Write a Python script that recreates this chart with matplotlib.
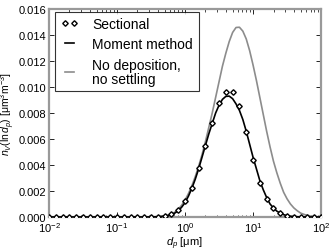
import matplotlib
matplotlib.use("Agg")
import matplotlib.pyplot as plt
import numpy as np
from matplotlib.ticker import FormatStrFormatter, LogLocator

plt.rcParams["font.family"] = ["Liberation Sans", "DejaVu Sans"]
plt.rcParams["mathtext.fontset"] = "custom"
plt.rcParams["mathtext.rm"] = "Liberation Sans"
plt.rcParams["mathtext.it"] = "Liberation Sans:italic"

# Sectional: one value per bin, bins at 10 per decade (log10 d from -2 to 2)
sect_logd = np.arange(-20, 21) / 10
sect_val = [0.0] * 17 + [
    0.00005, 0.00021, 0.00056, 0.00123, 0.00221, 0.00374, 0.00546,
    0.00720, 0.00874, 0.00964, 0.00964, 0.00851, 0.00656, 0.00441,
    0.00259, 0.00136, 0.00067, 0.00028, 0.00010, 0.00003,
    0.0, 0.0, 0.0, 0.0,
]

# Moment method and no-deposition curves, read every 0.05 decade
curve_logd = np.concatenate([[-2.0, -1.0], np.arange(-12, 41) / 20])
moment_val = [0.0, 0.0,
              0.0, 0.000005, 0.00001, 0.00001, 0.00002, 0.00004, 0.00006,
              0.00011, 0.00018, 0.00030, 0.00048, 0.00075, 0.00110,
              0.00160, 0.00220, 0.00290, 0.00370, 0.00460, 0.00550,
              0.00640, 0.00720, 0.00800, 0.00860, 0.00905, 0.00928,
              0.00930, 0.00910, 0.00870, 0.00820, 0.00750, 0.00660,
              0.00560, 0.00460, 0.00370, 0.00280, 0.00210, 0.00150,
              0.00100, 0.00070, 0.00045, 0.00030, 0.00018, 0.00010,
              0.00006, 0.00004, 0.00002, 0.00001, 0.0, 0.0, 0.0, 0.0,
              0.0, 0.0]
nodep_val = [0.0, 0.0,
             0.0, 0.000005, 0.00001, 0.00002, 0.00003, 0.00005, 0.00008,
             0.00014, 0.00022, 0.00037, 0.00060, 0.00090, 0.00130,
             0.00180, 0.00240, 0.00310, 0.00390, 0.00480, 0.00580,
             0.00690, 0.00800, 0.00920, 0.01040, 0.01160, 0.01260,
             0.01350, 0.01420, 0.01458, 0.01460, 0.01430, 0.01370,
             0.01280, 0.01170, 0.01050, 0.00920, 0.00790, 0.00660,
             0.00540, 0.00430, 0.00340, 0.00260, 0.00190, 0.00140,
             0.00100, 0.00070, 0.00048, 0.00030, 0.00020, 0.00012,
             0.00007, 0.00004, 0.00002, 0.00001]

fig = plt.figure(figsize=(3.32, 2.51), dpi=100)
ax = fig.add_axes([0.1476, 0.1315, 0.8194, 0.8285])

ax.plot(10 ** sect_logd, sect_val, linestyle="none", marker="D",
        markersize=2.8, markerfacecolor="white", markeredgecolor="black",
        markeredgewidth=1.0, label="Sectional", zorder=4)
ax.plot(10 ** curve_logd, moment_val, color="black", lw=1.2,
        label="Moment method", zorder=3)
ax.plot(10 ** curve_logd, nodep_val, color="0.55", lw=1.2,
        label="No deposition,\nno settling", zorder=2)

ax.set_xscale("log")
ax.set_xlim(1e-2, 1e2)
ax.set_ylim(0, 0.016)
ax.set_yticks(np.arange(0, 0.0161, 0.002))
ax.yaxis.set_major_formatter(FormatStrFormatter("%.3f"))
ax.xaxis.set_minor_locator(LogLocator(base=10, subs=np.arange(2, 10), numticks=20))

ax.tick_params(which="both", direction="in", top=True, right=True,
               labelsize=8, pad=2)
ax.tick_params(which="major", length=3.5, width=0.6)
ax.tick_params(which="minor", length=1.8, width=0.5)
for s in ax.spines.values():
    s.set_color("0.6")
    s.set_linewidth(1.6)

ax.set_xlabel(r"$d_p$ [μm]", fontsize=8, labelpad=1)
ax.set_ylabel(r"$n_V(\ln d_p)$ [μm$^3$m$^{-3}$]", fontsize=7.5, labelpad=1)

leg = ax.legend(loc="upper left", bbox_to_anchor=(0.022, 0.988),
                borderaxespad=0, numpoints=2, fontsize=10, frameon=True,
                fancybox=False, edgecolor="black", handlelength=1.3,
                handletextpad=1.0, labelspacing=0.45, borderpad=0.4)
leg.get_frame().set_linewidth(0.8)
leg.get_texts()[2].set_linespacing(1.0)

fig.savefig("out.png", dpi=100)
